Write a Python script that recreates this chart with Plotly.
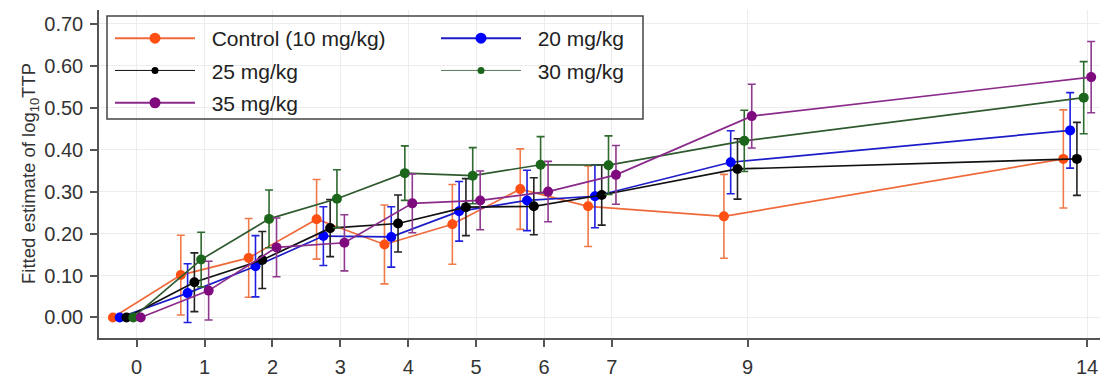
import plotly.graph_objects as go

days = [0, 1, 2, 3, 4, 5, 6, 7, 9, 14]
tick_labels = ["0", "1", "2", "3", "4", "5", "6", "7", "9", "14"]

series_names = ["Control (10 mg/kg)", "20 mg/kg", "25 mg/kg", "30 mg/kg", "35 mg/kg"]

control = [0, 0.101, 0.142, 0.234, 0.174, 0.222, 0.306, 0.265, 0.241, 0.378]
control_err = [0, 0.095, 0.094, 0.095, 0.094, 0.095, 0.096, 0.096, 0.100, 0.117]
d20 = [0, 0.058, 0.122, 0.194, 0.192, 0.253, 0.279, 0.289, 0.370, 0.446]
d20_err = [0, 0.070, 0.073, 0.070, 0.072, 0.071, 0.072, 0.075, 0.075, 0.090]
d25 = [0, 0.084, 0.137, 0.213, 0.224, 0.263, 0.265, 0.292, 0.354, 0.378]
d25_err = [0, 0.070, 0.068, 0.068, 0.068, 0.068, 0.068, 0.072, 0.072, 0.087]
d30 = [0, 0.138, 0.235, 0.283, 0.344, 0.338, 0.364, 0.363, 0.421, 0.524]
d30_err = [0, 0.065, 0.069, 0.069, 0.065, 0.067, 0.067, 0.070, 0.073, 0.086]
d35 = [0, 0.064, 0.167, 0.178, 0.272, 0.279, 0.300, 0.340, 0.480, 0.573]
d35_err = [0, 0.070, 0.070, 0.067, 0.070, 0.070, 0.072, 0.070, 0.076, 0.085]

values = [control, d20, d25, d30, d35]
errors = [control_err, d20_err, d25_err, d30_err, d35_err]

# styles
dodge = [-0.35, -0.25, -0.15, -0.05, 0.06]
marker_colors = ["#FF4F12", "#0000FF", "#000000", "#1B661B", "#7E0A7E"]
line_colors = ["#EF6A3A", "#1C1CC8", "#111111", "#2F5A2F", "#8A2A8A"]
err_colors = ["#F07A4A", "#2020E0", "#222222", "#2F6A2F", "#8E3A8E"]
legend_marker_size = [11, 11, 7, 7, 11]
legend_line_width = [2, 2, 1, 0.8, 2]
legend_ids = ["legend", "legend2", "legend", "legend2", "legend"]

fig = go.Figure()

for i, name in enumerate(series_names):
    fig.add_trace(go.Scatter(
        x=[d + dodge[i] for d in days], y=values[i],
        mode="lines+markers",
        line=dict(color=line_colors[i], width=1.7),
        marker=dict(color=marker_colors[i], size=10),
        error_y=dict(type="data", array=errors[i], visible=True,
                     color=err_colors[i], thickness=1.6, width=4),
        showlegend=False, name=name,
    ))

for i, name in enumerate(series_names):
    fig.add_trace(go.Scatter(
        x=[None], y=[None], mode="lines+markers", name="\u00a0\u00a0" + name,
        line=dict(color=line_colors[i], width=legend_line_width[i]),
        marker=dict(color=marker_colors[i], size=legend_marker_size[i]),
        legend=legend_ids[i], legendgroup=name, showlegend=True,
    ))

W, H = 1106, 377
ml, mr, mt, mb = 99, 6, 10, 39
pw, ph = W - ml - mr, H - mt - mb

def px_x(p):
    return (p - ml) / pw

def px_y(p):
    return 1 - (p - mt) / ph

legend_common = dict(
    orientation="v", bgcolor="rgba(0,0,0,0)", borderwidth=0,
    font=dict(family="Liberation Sans, Arial, sans-serif", size=21, color="#222"),
    itemwidth=80, tracegroupgap=2, xanchor="left", yanchor="top",
)

fig.update_layout(
    width=W, height=H,
    margin=dict(l=ml, r=mr, t=mt, b=mb),
    plot_bgcolor="white", paper_bgcolor="white",
    font=dict(family="Liberation Sans, Arial, sans-serif", color="#333"),
    legend=dict(**legend_common, x=px_x(110), y=px_y(18)),
    legend2=dict(**legend_common, x=px_x(436), y=px_y(18)),
    xaxis=dict(
        range=[-0.555, 14.19], tickmode="array", tickvals=days, ticktext=tick_labels,
        showgrid=True, gridcolor="#EDEDED", gridwidth=1, zeroline=False,
        showline=True, linecolor="#555", linewidth=1.5, mirror=False,
        ticks="outside", ticklen=7, tickwidth=1.5, tickcolor="#555",
        tickfont=dict(size=20, color="#333"), ticklabelstandoff=3,
        automargin=False,
    ),
    yaxis=dict(
        range=[-0.049, 0.733], tickmode="array",
        tickvals=[0, 0.1, 0.2, 0.3, 0.4, 0.5, 0.6, 0.7], tickformat=".2f",
        showgrid=True, gridcolor="#EDEDED", gridwidth=1, zeroline=False,
        showline=True, linecolor="#555", linewidth=1.5,
        ticks="outside", ticklen=7, tickwidth=1.5, tickcolor="#555",
        tickfont=dict(size=20, color="#333"), ticklabelstandoff=3,
        automargin=False,
    ),
    shapes=[dict(type="rect", xref="paper", yref="paper",
                 x0=px_x(107), x1=px_x(643), y0=px_y(16), y1=px_y(119),
                 line=dict(color="#444", width=1.5), fillcolor="rgba(0,0,0,0)")],
    annotations=[dict(text="Fitted estimate of log<sub>10</sub>TTP", textangle=-90,
                      xref="paper", yref="paper", x=px_x(30), y=0.5,
                      xanchor="center", yanchor="middle", showarrow=False,
                      font=dict(size=18.5, color="#333"))],
)

fig.write_html("out.html", config={"displayModeBar": False},
               post_script="document.body.style.margin='0px';")
